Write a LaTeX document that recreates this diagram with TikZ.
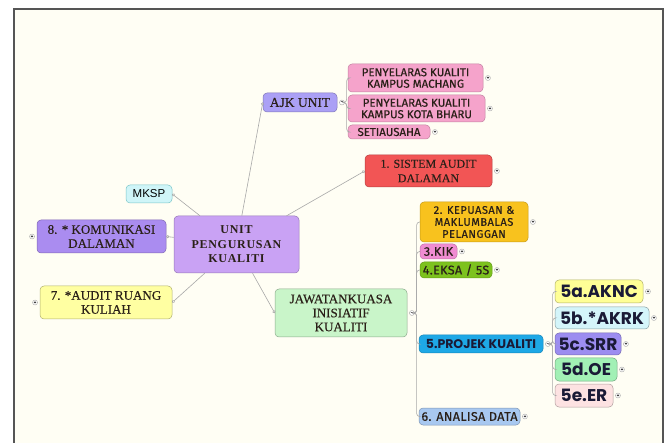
\documentclass[tikz,border=0pt]{standalone}
\usepackage{fontspec}
\setmainfont{Liberation Serif}[UprightFeatures={FakeBold=0.3}]
\newfontfamily\dinfont{Fira Sans}[FakeBold=0.6]
\newfontfamily\geofont{Poppins}
\newfontfamily\arialfont{Liberation Sans}
\usetikzlibrary{arrows.meta}

\definecolor{paper}{HTML}{FFFEF4}
\definecolor{framegray}{HTML}{555555}
\definecolor{linkgray}{HTML}{A8A8A8}
\definecolor{darktext}{HTML}{2A2018}
\definecolor{navytext}{HTML}{1A1A36}
\definecolor{unitfill}{HTML}{C9A2F4}
\definecolor{komfill}{HTML}{AA8CF0}
\definecolor{ajkfill}{HTML}{ABA0F5}
\definecolor{pinkfill}{HTML}{F5A3CB}
\definecolor{redfill}{HTML}{F25555}
\definecolor{orangefill}{HTML}{F8C21E}
\definecolor{kikfill}{HTML}{F08CD2}
\definecolor{eksafill}{HTML}{7DC21E}
\definecolor{projfill}{HTML}{1EA8E6}
\definecolor{anafill}{HTML}{A8C8F0}
\definecolor{aknc}{HTML}{FFFF96}
\definecolor{akrk}{HTML}{D4F5FA}
\definecolor{srr}{HTML}{9C8DF0}
\definecolor{oe}{HTML}{A2F0B5}
\definecolor{er}{HTML}{FDE2E2}
\definecolor{yellowfill}{HTML}{FFFFA2}
\definecolor{greenfill}{HTML}{C9F5C9}
\definecolor{cyanfill}{HTML}{CFF5F8}

\begin{document}
\begin{tikzpicture}[x=1pt,y=-1pt]
\begin{scope}
\tikzstyle{box} = [rectangle,draw,rounded corners=4pt,inner sep=1pt,align=center,line width=0.5pt]
\tikzstyle{serifbox} = [box,text=darktext]
\tikzstyle{dinbox} = [box,text=darktext,font=\dinfont\fontsize{11.5}{11.5}\selectfont]
\tikzstyle{smallbox} = [box,text=darktext,font=\dinfont\fontsize{12.5}{12.5}\selectfont\addfontfeatures{LetterSpace=3}]
\tikzstyle{geobox} = [box,text=navytext,font=\geofont\bfseries\fontsize{17}{17}\selectfont]
\tikzstyle{expander} = [circle,draw=linkgray,fill=white,inner sep=0pt,minimum size=5pt,font=\fontsize{5}{5}\selectfont]
\tikzstyle{link} = [draw=linkgray,line width=0.6pt,-{Circle[open,length=3pt]}]
\tikzstyle{branch} = [draw=linkgray,line width=0.6pt,rounded corners=3pt]

\useasboundingbox (0,0) rectangle (669,443);
\fill [white] (0,0) rectangle (669,443);
\fill [paper] (14,9) rectangle (663,443);
\draw [framegray,line width=1.4pt] (14,443) -- (14,9) -- (663,9) -- (663,443);

%centre
\node [serifbox,fill=unitfill,draw=unitfill!75!black,minimum width=125pt,minimum height=57pt,font=\bfseries\fontsize{12}{14.5}\selectfont\addfontfeatures{LetterSpace=6}] (unit) at (236.5,244.5) {UNIT\\PENGURUSAN\\KUALITI};

%left
\node [box,fill=cyanfill,draw=cyanfill!60!teal,minimum width=46pt,minimum height=18pt,font=\arialfont\fontsize{11.5}{11.5}\selectfont] (mksp) at (149,194) {MKSP};
\node [serifbox,fill=komfill,draw=komfill!75!black,minimum width=129pt,minimum height=33pt,font=\fontsize{13}{14}\selectfont] (kom) at (101.5,236.5) {8. * KOMUNIKASI\\DALAMAN};
\node [serifbox,fill=yellowfill,draw=yellowfill!70!black,minimum width=132pt,minimum height=33pt,font=\fontsize{13}{14}\selectfont] (aud) at (106,302.5) {7. *AUDIT RUANG\\KULIAH};
\node [expander,anchor=east] (komx) at ([xshift=-2pt]kom.west) {+};
\node [expander,anchor=east] (audx) at ([xshift=-2pt]aud.west) {+};

%top
\node [serifbox,fill=ajkfill,draw=ajkfill!75!black,minimum width=74pt,minimum height=19pt,font=\fontsize{13.5}{14}\selectfont] (ajk) at (300,102.5) {AJK UNIT};
\node [dinbox,fill=pinkfill,draw=pinkfill!80!black,minimum width=135pt,minimum height=28pt] (pm) at (415.5,78) {PENYELARAS KUALITI\\KAMPUS MACHANG};
\node [dinbox,fill=pinkfill,draw=pinkfill!80!black,minimum width=137pt,minimum height=27pt] (pk) at (416.5,108.5) {PENYELARAS KUALITI\\KAMPUS KOTA BHARU};
\node [dinbox,fill=pinkfill,draw=pinkfill!80!black,minimum width=82pt,minimum height=14pt] (sec) at (389,132) {SETIAUSAHA};
\node [serifbox,fill=redfill,draw=redfill!75!black,minimum width=127pt,minimum height=32pt,font=\fontsize{12}{14.5}\selectfont] (sad) at (428.5,171) {1. SISTEM AUDIT\\DALAMAN};
\node [expander,anchor=west] (ajkm) at ([xshift=2pt]ajk.east) {−};
\node [expander,anchor=west] (pmx) at ([xshift=2pt]pm.east) {+};
\node [expander,anchor=west] (pkx) at ([xshift=2pt]pk.east) {+};
\node [expander,anchor=west] (secx) at ([xshift=2pt]sec.east) {+};
\node [expander,anchor=west] (sadx) at ([xshift=2pt]sad.east) {+};

%jawatankuasa
\node [serifbox,fill=greenfill,draw=greenfill!70!black,minimum width=132pt,minimum height=48pt,font=\fontsize{13}{14}\selectfont] (jaw) at (341,313) {JAWATANKUASA\\INISIATIF\\KUALITI};
\node [dinbox,fill=orangefill,draw=orangefill!80!black,minimum width=108pt,minimum height=40pt,font=\dinfont\fontsize{11}{12}\selectfont\addfontfeatures{LetterSpace=5}] (kep) at (474,222) {2. KEPUASAN \&\\MAKLUMBALAS\\PELANGGAN};
\node [smallbox,fill=kikfill,draw=kikfill!80!black,minimum width=37pt,minimum height=15pt] (kik) at (438.5,251.5) {3.KIK};
\node [smallbox,fill=eksafill,draw=eksafill!80!black,minimum width=72pt,minimum height=16pt] (eksa) at (456,270) {4.EKSA / 5S};
\node [box,fill=projfill,draw=projfill!80!black,text=navytext,minimum width=124pt,minimum height=18pt,font=\geofont\bfseries\fontsize{12.5}{12.5}\selectfont] (proj) at (481,344) {5.PROJEK KUALITI};
\node [smallbox,fill=anafill,draw=anafill!75!black,minimum width=101pt,minimum height=17pt] (ana) at (469.5,416.5) {6. ANALISA DATA};
\node [expander,anchor=west] (jawm) at ([xshift=2pt]jaw.east) {−};
\node [expander,anchor=west] (kepx) at ([xshift=2pt]kep.east) {+};
\node [expander,anchor=west] (kikx) at ([xshift=2pt]kik.east) {+};
\node [expander,anchor=west] (eksax) at ([xshift=2pt]eksa.east) {+};
\node [expander,anchor=west] (projm) at ([xshift=2pt]proj.east) {−};
\node [expander,anchor=west] (anax) at ([xshift=2pt]ana.east) {+};

%projek kualiti
\node [geobox,fill=aknc,draw=aknc!70!black,minimum width=88pt,minimum height=23pt] (a5) at (599,291.5) {5a.AKNC};
\node [geobox,fill=akrk,draw=akrk!65!black,minimum width=94pt,minimum height=22pt] (b5) at (602,318) {5b.*AKRK};
\node [geobox,fill=srr,draw=srr!75!black,minimum width=66pt,minimum height=22pt] (c5) at (588,344) {5c.SRR};
\node [geobox,fill=oe,draw=oe!70!black,minimum width=62pt,minimum height=23pt] (d5) at (586,369.5) {5d.OE};
\node [geobox,fill=er,draw=er!70!black,minimum width=58pt,minimum height=23pt] (e5) at (584,395.5) {5e.ER};
\node [expander,anchor=west] (a5x) at ([xshift=2pt]a5.east) {+};
\node [expander,anchor=west] (b5x) at ([xshift=2pt]b5.east) {+};
\node [expander,anchor=west] (c5x) at ([xshift=2pt]c5.east) {+};
\node [expander,anchor=west] (d5x) at ([xshift=2pt]d5.east) {+};
\node [expander,anchor=west] (e5x) at ([xshift=2pt]e5.east) {+};

%links from centre
\draw [link] (unit) -- (mksp.east);
\draw [link] (unit) -- (ajk.west);
\draw [link] (unit) -- (sad.west);
\draw [link] (unit) -- (kom.east);
\draw [link] (unit) -- (aud.east);
\draw [link] (unit) -- (jaw.west);

%branches
\coordinate (ajkbar) at ([xshift=2pt]ajkm.east);
\draw [branch] (ajkm.east) -- (ajkbar) |- (pm.west);
\draw [branch] (ajkm.east) -- (ajkbar) |- (pk.west);
\draw [branch] (ajkm.east) -- (ajkbar) |- (sec.west);

\coordinate (jawbar) at ([xshift=2pt]jawm.east);
\draw [branch] (jawm.east) -- (jawbar) |- (kep.west);
\draw [branch] (jawm.east) -- (jawbar) |- (kik.west);
\draw [branch] (jawm.east) -- (jawbar) |- (eksa.west);
\draw [branch] (jawm.east) -- (jawbar) |- (proj.west);
\draw [branch] (jawm.east) -- (jawbar) |- (ana.west);

\coordinate (projbar) at ([xshift=2pt]projm.east);
\draw [branch] (projm.east) -- (projbar) |- (a5.west);
\draw [branch] (projm.east) -- (projbar) |- (b5.west);
\draw [branch] (projm.east) -- (projbar) |- (c5.west);
\draw [branch] (projm.east) -- (projbar) |- (d5.west);
\draw [branch] (projm.east) -- (projbar) |- (e5.west);
\end{scope}
\end{tikzpicture}
\end{document}
